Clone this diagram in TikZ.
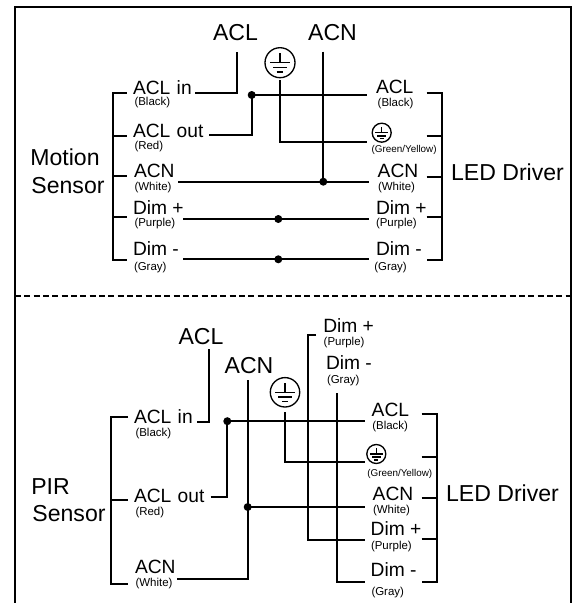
\documentclass[tikz,border=0pt]{standalone}
\usepackage{fontspec}
\setmainfont{Liberation Sans}
\usetikzlibrary{calc}
\tikzset{
  x=0.75pt,y=-0.75pt,
  wire/.style={line width=1.3pt,line cap=butt,line join=miter},
  frame/.style={line width=1.7pt},
  big/.style={font=\fontsize{17.3}{19}\selectfont,inner sep=0pt,outer sep=0pt,anchor=base},
  lab/.style={font=\fontsize{14.4}{16}\selectfont,inner sep=0pt,outer sep=0pt,anchor=base west},
  sm/.style={font=\fontsize{8.6}{10}\selectfont,inner sep=0pt,outer sep=0pt,anchor=base west},
  xs/.style={font=\fontsize{7.4}{9}\selectfont,inner sep=0pt,outer sep=0pt,anchor=base west},
  dot/.style={circle,fill=black,inner sep=0pt,minimum size=6pt},
}
\newcommand{\gnd}[4]{% name,x,y,radius
  \node[circle,draw,line width=1pt,inner sep=0pt,minimum size=#4*1.5pt] (#1) at (#2,#3) {};
  \begin{scope}[shift={(#2,#3)}]
  \draw[line width=1pt] (0,-#4*0.62) -- (0,0)
     (-#4*0.68,0) -- (#4*0.68,0)
     (-#4*0.45,#4*0.33) -- (#4*0.45,#4*0.33)
     (-#4*0.22,#4*0.62) -- (#4*0.22,#4*0.62);
  \end{scope}
}
\begin{document}
\begin{tikzpicture}
\useasboundingbox (0,0) rectangle (576,603);
% frame
\coordinate (fbl) at (15,603);
\coordinate (fbr) at (571,603);
\coordinate (ftl) at (15,6.7);
\coordinate (ftr) at (571,6.7);
\coordinate (dl) at (15,295.7);
\coordinate (dr) at (571,295.7);
\draw[frame] (fbl) -- (ftl) -- (ftr) -- (fbr);
\draw[frame,dash pattern=on 4.5pt off 2.5pt] (dl) -- (dr);

% ---- top panel texts
\node[big] (m1) at (65,165) {Motion};
\node[big] (m2) at (68,193) {Sensor};
\node[big] (ld1) at (507.5,180) {LED Driver};
\node[big] (tacl) at (235.5,40.7) {ACL};
\node[big] (tacn) at (332.5,40) {ACN};
\gnd{tg}{280}{62.7}{15}

\node[lab] (a1) at (133,94) {ACL\,\,in};
\node[sm] (a1s) at (134.5,105.5) {(Black)};
\node[lab] (a2) at (133,137) {ACL\,\,out};
\node[sm] (a2s) at (134.5,149) {(Red)};
\node[lab] (a3) at (134,177.7) {ACN};
\node[sm] (a3s) at (134.5,190.5) {(White)};
\node[lab] (a4) at (133,214.3) {Dim +};
\node[sm] (a4s) at (134.5,226) {(Purple)};
\node[lab] (a5) at (133,255) {Dim -};
\node[sm] (a5s) at (134,270.5) {(Gray)};

\node[lab] (b1) at (376,93.3) {ACL};
\node[sm] (b1s) at (377.7,106) {(Black)};
\gnd{tg2}{381.7}{132.7}{9.5}
\node[xs] (b2s) at (371.7,152.7) {(Green/Yellow)};
\node[lab] (b3) at (377.7,177.7) {ACN};
\node[sm] (b3s) at (378,190.5) {(White)};
\node[lab] (b4) at (376,214.3) {Dim +};
\node[sm] (b4s) at (376,226) {(Purple)};
\node[lab] (b5) at (376,255) {Dim -};
\node[sm] (b5s) at (374.3,270.5) {(Gray)};

% top bracket left
\foreach \n/\y in {la/92.7,lb/135.7,lc/175.7,ld/216.7,le/260}{
  \coordinate (\n o) at (112.7,\y);
  \coordinate (\n i) at (126.7,\y);
}
\draw[wire] (lai) -- (lao) -- (leo) -- (lei);
\draw[wire] (lbo) -- (lbi);
\draw[wire] (lco) -- (lci);
\draw[wire] (ldo) -- (ldi);
% top bracket right
\foreach \n/\y in {ra/92.7,rb/135.7,rc/176.7,rd/217.3,re/260}{
  \coordinate (\n o) at (441.7,\y);
  \coordinate (\n i) at (426.7,\y);
}
\draw[wire] (rai) -- (rao) -- (reo) -- (rei);
\draw[wire] (rbi) -- (rbo);
\draw[wire] (rci) -- (rco);
\draw[wire] (rdi) -- (rdo);

% top wires
\node[dot] (d1) at (251.7,95) {};
\node[dot] (d2) at (323.3,181.7) {};
\node[dot] (d3) at (278.3,219) {};
\node[dot] (d4) at (278.3,259.3) {};
\coordinate (w1a) at (195,92.7);
\coordinate (w1b) at (236.7,51.7);
\draw[wire] (w1a) -| (w1b);
\coordinate (w2a) at (209,135);
\draw[wire] (w2a) -| (d1.center);
\coordinate (w3b) at (366.7,95);
\draw[wire] (d1.center) -- (w3b);
\coordinate (w4a) at (280,80);
\coordinate (w4b) at (367,141.7);
\draw[wire] (w4a) |- (w4b);
\coordinate (w5a) at (323.3,51.7);
\draw[wire] (w5a) -- (d2.center);
\coordinate (w6a) at (178,181.7);
\coordinate (w6b) at (369,181.7);
\draw[wire] (w6a) -- (w6b);
\coordinate (w7a) at (183,219);
\coordinate (w7b) at (369,219);
\draw[wire] (w7a) -- (w7b);
\coordinate (w8a) at (183,259.3);
\coordinate (w8b) at (369,259.3);
\draw[wire] (w8a) -- (w8b);

% ---- bottom panel texts
\node[big] (p1) at (50.5,494) {PIR};
\node[big] (p2) at (69,521.7) {Sensor};
\node[big] (ld2) at (502.5,501) {LED Driver};
\node[big] (bacl) at (201,344) {ACL};
\node[big] (bacn) at (249,373) {ACN};
\gnd{bg}{285}{392.3}{14.7}

\node[lab] (c1) at (134,423.3) {ACL\,\,in};
\node[sm] (c1s) at (135.5,436.7) {(Black)};
\node[lab] (c2) at (134,502.7) {ACL\,\,out};
\node[sm] (c2s) at (135.5,515) {(Red)};
\node[lab] (c3) at (135,573) {ACN};
\node[sm] (c3s) at (135.5,586.7) {(White)};

\node[lab] (t1) at (323.3,332.3) {Dim +};
\node[sm] (t1s) at (323.7,345) {(Purple)};
\node[lab] (t2) at (326,369.3) {Dim -};
\node[sm] (t2s) at (327,383.3) {(Gray)};

\node[lab] (e1) at (371.7,416) {ACL};
\node[sm] (e1s) at (372.3,429) {(Black)};
\gnd{bg2}{376.3}{454}{9.5}
\node[xs] (e2s) at (367.3,476) {(Green/Yellow)};
\node[lab] (e3) at (372.7,500) {ACN};
\node[sm] (e3s) at (373,513.3) {(White)};
\node[lab] (e4) at (370.7,535.3) {Dim +};
\node[sm] (e4s) at (371,549) {(Purple)};
\node[lab] (e5) at (370.7,576) {Dim -};
\node[sm] (e5s) at (371.5,595) {(Gray)};

% bottom bracket left
\foreach \n/\y in {ma/416.7,mb/500.3,mc/584.3}{
  \coordinate (\n o) at (110.7,\y);
  \coordinate (\n i) at (128,\y);
}
\draw[wire] (mai) -- (mao) -- (mco) -- (mci);
\draw[wire] (mbo) -- (mbi);
% bottom bracket right
\foreach \n/\y in {sa/414,sb/456.7,sc/498.3,sd/538.7,se/581.7}{
  \coordinate (\n o) at (436.7,\y);
  \coordinate (\n i) at (421.7,\y);
}
\draw[wire] (sai) -- (sao) -- (seo) -- (sei);
\draw[wire] (sbi) -- (sbo);
\draw[wire] (sci) -- (sco);
\draw[wire] (sdi) -- (sdo);

% bottom wires
\node[dot] (d5) at (227.3,421.2) {};
\node[dot] (d6) at (247.7,507) {};
\coordinate (x1a) at (197.3,422);
\coordinate (x1b) at (209,349.3);
\draw[wire] (x1a) -| (x1b);
\coordinate (x2a) at (210.7,496.7);
\draw[wire] (x2a) -| (d5.center);
\coordinate (x3b) at (365,421.2);
\draw[wire] (d5.center) -- (x3b);
\coordinate (x4a) at (285,412.3);
\coordinate (x4b) at (365,461.9);
\draw[wire] (x4a) |- (x4b);
\coordinate (x5a) at (247.7,380);
\coordinate (x5b) at (177.3,579.3);
\draw[wire] (x5a) |- (x5b);
\coordinate (x6b) at (365,507);
\draw[wire] (d6.center) -- (x6b);
\coordinate (x7a) at (316,335.3);
\coordinate (x7m) at (308.3,335.3);
\coordinate (x7b) at (365,540);
\draw[wire] (x7a) -- (x7m) |- (x7b);
\coordinate (x8a) at (337.3,393.3);
\coordinate (x8b) at (365,581.7);
\draw[wire] (x8a) |- (x8b);
\end{tikzpicture}
\end{document}
